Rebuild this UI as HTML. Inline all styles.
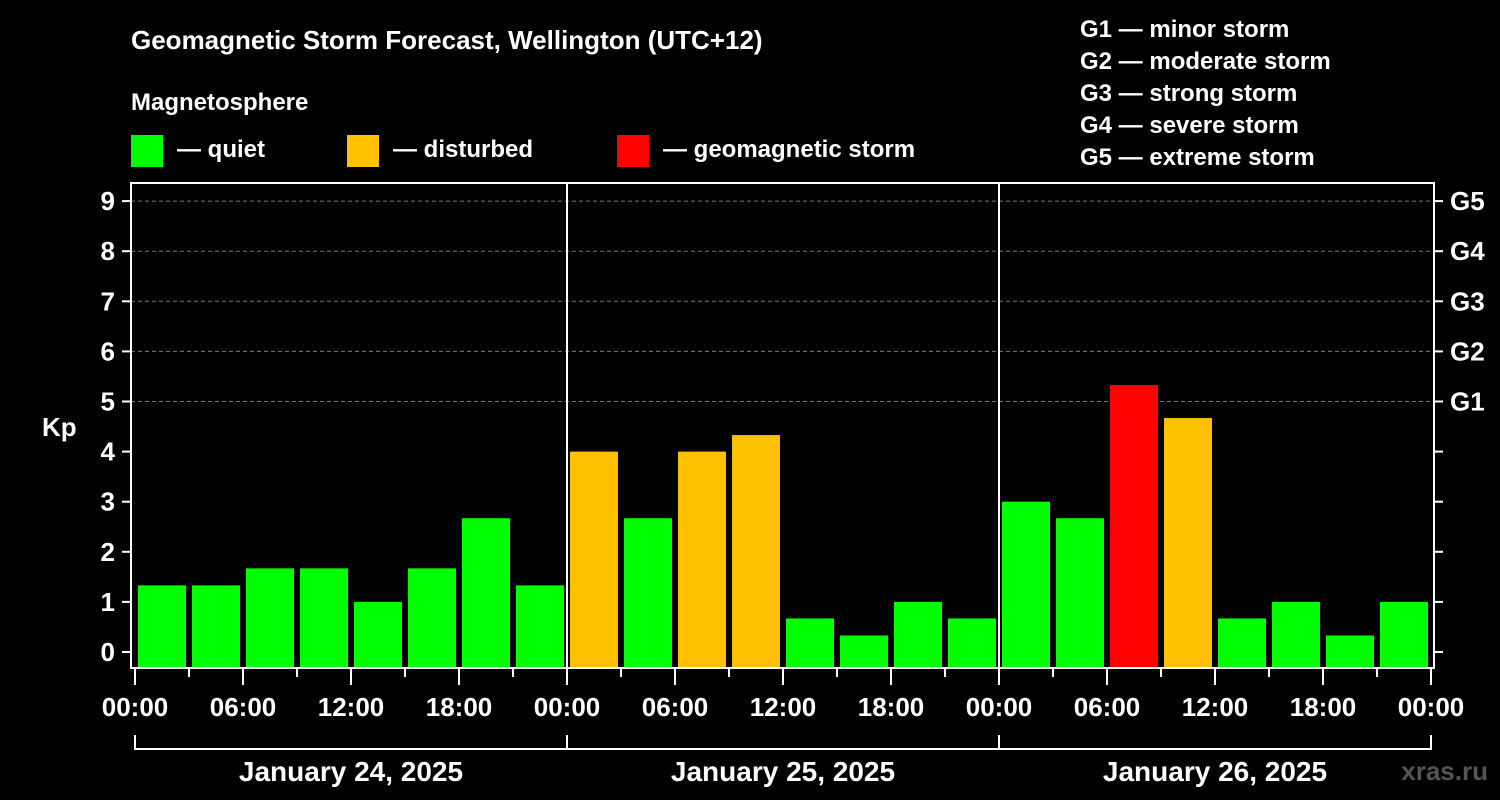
<!DOCTYPE html>
<html><head><meta charset="utf-8"><style>
html,body{margin:0;padding:0;background:#000;}
svg{display:block;font-family:"Liberation Sans",Arial,sans-serif;font-weight:bold;}
</style></head><body>
<svg id="chart" width="1500" height="800" viewBox="0 0 1500 800">
<rect width="1500" height="800" fill="#000"/>
<text x="131" y="49" fill="#fff" font-size="26">Geomagnetic Storm Forecast, Wellington (UTC+12)</text>
<text x="131" y="110" fill="#fff" font-size="24">Magnetosphere</text>
<g><rect x="131" y="135" width="32" height="32" fill="#00ff00"/><text x="177" y="157" fill="#fff" font-size="24">— quiet</text></g>
<g><rect x="347" y="135" width="32" height="32" fill="#ffc000"/><text x="393" y="157" fill="#fff" font-size="24">— disturbed</text></g>
<g><rect x="617" y="135" width="32" height="32" fill="#ff0000"/><text x="663" y="157" fill="#fff" font-size="24">— geomagnetic storm</text></g>
<g fill="#fff" font-size="24">
<text x="1080" y="37">G1 — minor storm</text>
<text x="1080" y="69">G2 — moderate storm</text>
<text x="1080" y="101">G3 — strong storm</text>
<text x="1080" y="133">G4 — severe storm</text>
<text x="1080" y="165">G5 — extreme storm</text>
</g>
<text x="42" y="436" fill="#fff" font-size="26">Kp</text>
<g id="grid"></g><g id="bars"></g><g id="axes"></g>
<text x="1488" y="780" fill="#555" font-size="26" text-anchor="end">xras.ru</text>
</svg>
<script>
const kpValues = [1.33,1.33,1.67,1.67,1,1.67,2.67,1.33, 4,2.67,4,4.33,0.67,0.33,1,0.67, 3,2.67,5.33,4.67,0.67,1,0.33,1];
const yTicks = [0,1,2,3,4,5,6,7,8,9];
const gLabels = ["G1","G2","G3","G4","G5"];
const gLevels = [5,6,7,8,9];
const xTickLabels = ["00:00","06:00","12:00","18:00","00:00","06:00","12:00","18:00","00:00","06:00","12:00","18:00","00:00"];
const dayLabels = ["January 24, 2025","January 25, 2025","January 26, 2025"];

const NS="http://www.w3.org/2000/svg";
const L=131,R=1434,T=183,B=668,X0=135,X1=1431;
const y=v=>652-v*50.1;
const x=h=>X0+(X1-X0)*h/72;
function mk(tag,attrs,parent,txt){const e=document.createElementNS(NS,tag);for(const k in attrs)e.setAttribute(k,attrs[k]);if(txt!==undefined)e.textContent=txt;parent.appendChild(e);return e;}
const grid=document.getElementById('grid'),bars=document.getElementById('bars'),axes=document.getElementById('axes');
gLevels.forEach((g,i)=>{
  const ln=mk('line',{x1:L,x2:R,y1:y(g),y2:y(g),stroke:'#777','stroke-dasharray':'4,3','stroke-width':1},grid);
  
  
  const t=mk('text',{x:1450,y:y(g)+9,fill:'#fff','font-size':26},axes,gLabels[i]);
  
  
});
kpValues.forEach((v,i)=>{
  const col=v>=5?'#ff0000':(v>=4?'#ffc000':'#00ff00');
  const r=mk('rect',{x:x(i*3)+3,y:y(v),width:x(3)-X0-6,height:B-y(v),fill:col},bars);
  
  
});
// plot frame
const fr=mk('rect',{x:L,y:T,width:R-L,height:B-T,fill:'none',stroke:'#fff','stroke-width':2},axes);


[1,2].forEach(d=>{const s=mk('line',{x1:x(d*24),x2:x(d*24),y1:T,y2:B,stroke:'#fff','stroke-width':2},axes);
  
  });
yTicks.forEach(v=>{
  mk('line',{x1:122,x2:L,y1:y(v),y2:y(v),stroke:'#fff','stroke-width':2},axes);
  mk('line',{x1:R,x2:1443,y1:y(v),y2:y(v),stroke:'#fff','stroke-width':2},axes);
  const t=mk('text',{x:115,y:y(v)+9,fill:'#fff','font-size':26,'text-anchor':'end'},axes,v);
  
  
});
for(let h=0;h<=72;h+=3){mk('line',{x1:x(h),x2:x(h),y1:B,y2:h%6===0?685:677,stroke:'#fff','stroke-width':2},axes);}
xTickLabels.forEach((lab,i)=>{
  const t=mk('text',{x:x(i*6),y:716,fill:'#fff','font-size':26,'text-anchor':'middle'},axes,lab);
  
  
});
const br=mk('path',{d:`M${X0} 735V749H${X1}V735M${x(24)} 735V749M${x(48)} 735V749`,stroke:'#fff','stroke-width':2,fill:'none'},axes);


dayLabels.forEach((d,i)=>{
  const t=mk('text',{x:x(i*24+12),y:781,fill:'#fff','font-size':28,'text-anchor':'middle'},axes,d);
  
  
});
</script>
</body></html>
